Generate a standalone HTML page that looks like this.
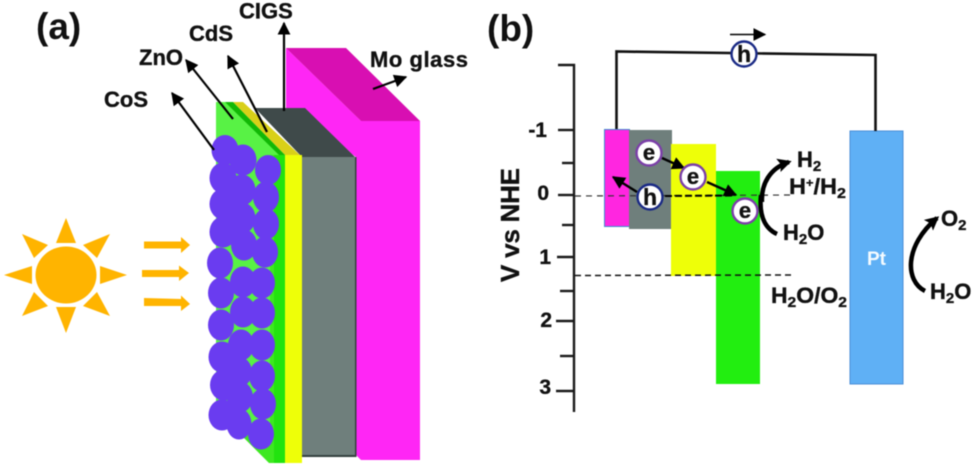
<!DOCTYPE html>
<html><head><meta charset="utf-8">
<style>
html,body{margin:0;padding:0;background:#fff;width:975px;height:466px;overflow:hidden}
svg{display:block;filter:blur(.45px)}
text{font-family:"Liberation Sans",sans-serif;font-weight:bold;fill:#111;stroke:#111;stroke-width:.35px}
</style></head>
<body>
<svg width="975" height="466" viewBox="0 0 975 466" xmlns="http://www.w3.org/2000/svg">
<defs>
<marker id="a" viewBox="0 0 10 10" refX="9" refY="5" markerWidth="13" markerHeight="13" markerUnits="userSpaceOnUse" orient="auto"><path d="M0 0L10 5L0 10Z" fill="#000"/></marker>
<marker id="b" viewBox="0 0 10 10" refX="8" refY="5" markerWidth="14" markerHeight="14" markerUnits="userSpaceOnUse" orient="auto"><path d="M0 0L10 5L0 10L2 5Z" fill="#000"/></marker>
</defs>
<rect width="975" height="466" fill="#fff"/>

<!-- Mo glass -->
<polygon points="286,48 361,121 361,460 356,455 356,157 286,108" fill="#ff26f5"/>
<polygon points="286,48 346,48 420,121 361,121" fill="#d80fb2"/>
<rect x="361" y="121" width="59" height="339" fill="#ff26f5"/>
<!-- CIGS -->
<polygon points="255,108 305,108 355,157 302,157" fill="#3f4a4a"/>
<rect x="302" y="157" width="53" height="298" fill="#6f7f7c"/>
<rect x="302" y="455" width="54" height="2" fill="#34413f"/>
<rect x="355" y="157" width="1.5" height="300" fill="#34413f"/>
<!-- CdS -->
<polygon points="233,102 243,102 302,157 285,155" fill="#d9d018"/>
<rect x="285" y="155" width="17" height="308" fill="#eeff08"/>
<!-- ZnO -->
<polygon points="216,102 225,102 285,155 285,463 269,463 216,410" fill="#3ee820"/>
<polygon points="216,102 225,102 280,155 270,155 270,440 216,410" fill="#58f245"/>
<polygon points="225,102 233,102 285,155 279,155" fill="#12b806"/>
<rect x="274" y="155" width="11" height="308" fill="#22e30f"/>

<!-- CoS particles -->
<g fill="#6a3cf0">
<ellipse cx="225" cy="150" rx="13.500" ry="15"/><ellipse cx="243" cy="160" rx="13.500" ry="15.500"/><ellipse cx="268" cy="170" rx="13" ry="15"/>
<ellipse cx="223" cy="178" rx="13.500" ry="15.500"/><ellipse cx="242" cy="190" rx="13.500" ry="15.500"/><ellipse cx="266" cy="197" rx="13" ry="15.500"/>
<ellipse cx="223" cy="204" rx="13.500" ry="15.500"/><ellipse cx="242" cy="218" rx="13.500" ry="15.500"/><ellipse cx="266" cy="224" rx="13" ry="15.500"/>
<ellipse cx="223" cy="232" rx="13.500" ry="15.500"/><ellipse cx="244" cy="245" rx="13" ry="15.500"/><ellipse cx="265" cy="252" rx="13" ry="15.500"/>
<ellipse cx="220" cy="263" rx="13" ry="15.500"/><ellipse cx="243" cy="282" rx="13" ry="15.500"/><ellipse cx="262" cy="283" rx="13" ry="15.500"/>
<ellipse cx="221" cy="293" rx="13" ry="15.500"/><ellipse cx="243" cy="312" rx="13" ry="15.500"/><ellipse cx="262" cy="313" rx="13" ry="15.500"/>
<ellipse cx="221" cy="325" rx="13" ry="15.500"/><ellipse cx="241" cy="345" rx="13" ry="15.500"/><ellipse cx="262" cy="345" rx="13" ry="15.500"/>
<ellipse cx="222" cy="357" rx="13.500" ry="15.500"/><ellipse cx="238" cy="372" rx="14" ry="15.500"/><ellipse cx="262" cy="376" rx="13" ry="15.500"/>
<ellipse cx="224" cy="385" rx="14" ry="15.500"/><ellipse cx="240" cy="397" rx="13" ry="15.500"/><ellipse cx="263" cy="404" rx="13" ry="15.500"/>
<ellipse cx="222" cy="415" rx="13.500" ry="15.500"/><ellipse cx="239" cy="424" rx="12.500" ry="15.500"/><ellipse cx="261" cy="434" rx="13" ry="15.500"/>
</g>

<!-- Arrows panel a -->
<g stroke="#000" stroke-width="2.200" fill="none">
<line x1="214" y1="150" x2="172" y2="93" marker-end="url(#a)"/>
<line x1="233" y1="119" x2="186" y2="60" marker-end="url(#a)"/>
<line x1="267" y1="132" x2="228" y2="56" marker-end="url(#a)"/>
<line x1="284" y1="111" x2="284" y2="23" marker-end="url(#a)"/>
<line x1="373" y1="89" x2="406" y2="77" marker-end="url(#a)"/>
</g>

<!-- Sun -->
<g fill="#ffb400">
<ellipse cx="66" cy="275" rx="30.500" ry="28.500"/>
<polygon points="66,218 56,243 76,243"/>
<polygon points="66,333 56,307 76,307"/>
<polygon points="4,275 32,266 32,284"/>
<polygon points="127,275 100,266 100,284"/>
<polygon points="22,234 48,245 34,258"/>
<polygon points="110,234 83,245 97,258"/>
<polygon points="22,316 34,292 48,306"/>
<polygon points="110,316 97,292 83,306"/>
<polygon points="144,241.500 181,241.500 181,237 190,245 181,253 181,248.500 144,248.500"/>
<polygon points="142,270 179,270 179,265.500 189,273 179,281 179,277 142,277"/>
<polygon points="144,298 181,299 181,295.500 190,304 181,311 181,306 144,306"/>
</g>

<!-- Text panel a -->
<text x="36" y="39" font-size="37" style="stroke-width:0">(a)</text>
<text x="239" y="18.500" font-size="22">CIGS</text>
<text x="189" y="41" font-size="22">CdS</text>
<text x="139" y="65" font-size="22">ZnO</text>
<text x="104" y="107" font-size="22">CoS</text>
<text x="370" y="67" font-size="22" textLength="98">Mo glass</text>

<!-- Panel b -->
<text x="487" y="41" font-size="37" style="stroke-width:0">(b)</text>

<!-- Bars -->
<rect x="604.500" y="129.500" width="25" height="97" fill="#ff26e0" stroke="#3d8fd0" stroke-width="1"/>
<rect x="629" y="130" width="43" height="99" fill="#6f7f7c"/>
<rect x="671" y="144" width="45" height="132" fill="#eeff08"/>
<rect x="716" y="171" width="44" height="213" fill="#22ee10"/>
<rect x="850" y="131" width="53" height="253" fill="#5fb0f5" stroke="#4a8fd8" stroke-width="1"/>
<text x="876.500" y="265" font-size="19" text-anchor="middle" style="fill:#f4fbff;stroke-width:0">Pt</text>

<!-- Axis -->
<g stroke="#1a1a1a" stroke-width="2.400" fill="none">
<polyline points="558,65 574,65 574,412"/>
<line x1="558" y1="130" x2="574" y2="130"/>
<line x1="562" y1="163" x2="574" y2="163"/>
<line x1="558" y1="195" x2="574" y2="195"/>
<line x1="562" y1="225" x2="574" y2="225"/>
<line x1="557" y1="257" x2="574" y2="257"/>
<line x1="560" y1="291" x2="574" y2="291"/>
<line x1="556" y1="321" x2="574" y2="321"/>
<line x1="560" y1="356" x2="574" y2="356"/>
<line x1="556" y1="391" x2="574" y2="391"/>
</g>
<text x="547" y="137" font-size="21" text-anchor="end">-1</text>
<text x="549" y="200" font-size="21" text-anchor="end">0</text>
<text x="551" y="264" font-size="21" text-anchor="end">1</text>
<text x="552" y="327" font-size="21" text-anchor="end">2</text>
<text x="551" y="394" font-size="21" text-anchor="end">3</text>
<text transform="translate(519,282) rotate(-90)" font-size="26" textLength="114">V vs NHE</text>

<!-- Dashed -->
<line x1="575" y1="196" x2="790" y2="195" stroke="#333" stroke-width="1.200" stroke-dasharray="6 5"/>
<line x1="665" y1="196" x2="735" y2="195.500" stroke="#000" stroke-width="2" stroke-dasharray="7 3"/>
<line x1="575" y1="275.500" x2="791" y2="275" stroke="#111" stroke-width="1.500" stroke-dasharray="6 4"/>

<!-- Wire -->
<polyline points="616.500,129 616.500,51.500 875.500,55 875.500,131" fill="none" stroke="#111" stroke-width="2.600"/>
<line x1="730" y1="34.500" x2="765" y2="34.500" stroke="#000" stroke-width="1.500" marker-end="url(#a)"/>

<!-- Electron arrows -->
<line x1="662" y1="158" x2="684" y2="168" stroke="#000" stroke-width="2.400" marker-end="url(#a)"/>
<line x1="707" y1="182" x2="736" y2="195" stroke="#000" stroke-width="2.400" marker-end="url(#a)"/>
<line x1="637" y1="192" x2="613" y2="177" stroke="#000" stroke-width="2.400" marker-end="url(#a)"/>

<!-- Circles -->
<circle cx="744" cy="54" r="12.500" fill="#fff" stroke="#1a2a85" stroke-width="2.400"/>
<text x="744" y="62" font-size="23" text-anchor="middle">h</text>
<circle cx="649" cy="153" r="12.500" fill="#fff" stroke="#7b3fa8" stroke-width="2.400"/>
<text x="649" y="160" font-size="22" text-anchor="middle">e</text>
<circle cx="693" cy="177" r="12.500" fill="#fff" stroke="#7b3fa8" stroke-width="2.400"/>
<text x="693" y="184" font-size="22" text-anchor="middle">e</text>
<circle cx="745" cy="211" r="12.500" fill="#fff" stroke="#7b3fa8" stroke-width="2.400"/>
<text x="745" y="218" font-size="22" text-anchor="middle">e</text>
<circle cx="650" cy="197" r="12.500" fill="#fff" stroke="#1a2a85" stroke-width="2.400"/>
<text x="650" y="205" font-size="23" text-anchor="middle">h</text>

<!-- Curved arrows -->
<path d="M762 202C761 184 770 168 789 162" fill="none" stroke="#000" stroke-width="4.500" marker-end="url(#b)"/>
<path d="M761 195C759 214 764 228 777 234" fill="none" stroke="#000" stroke-width="4.500"/>
<path d="M925 291C905 281 904 246 937 218" fill="none" stroke="#000" stroke-width="4.500" marker-end="url(#b)"/>

<!-- Chem labels -->
<text x="797" y="167" font-size="22">H<tspan font-size="15" dy="4">2</tspan></text>
<text x="789" y="194" font-size="22" textLength="57" lengthAdjust="spacingAndGlyphs">H<tspan font-size="12" dy="-7">+</tspan><tspan dy="7">/H</tspan><tspan font-size="15" dy="4">2</tspan></text>
<text x="783" y="240" font-size="22">H<tspan font-size="15" dy="4">2</tspan><tspan dy="-4">O</tspan></text>
<text x="771" y="303" font-size="22" textLength="76" lengthAdjust="spacingAndGlyphs">H<tspan font-size="15" dy="4">2</tspan><tspan dy="-4">O/O</tspan><tspan font-size="15" dy="4">2</tspan></text>
<text x="941" y="226" font-size="22">O<tspan font-size="15" dy="4">2</tspan></text>
<text x="930" y="299" font-size="22">H<tspan font-size="15" dy="4">2</tspan><tspan dy="-4">O</tspan></text>
</svg>
</body></html>
